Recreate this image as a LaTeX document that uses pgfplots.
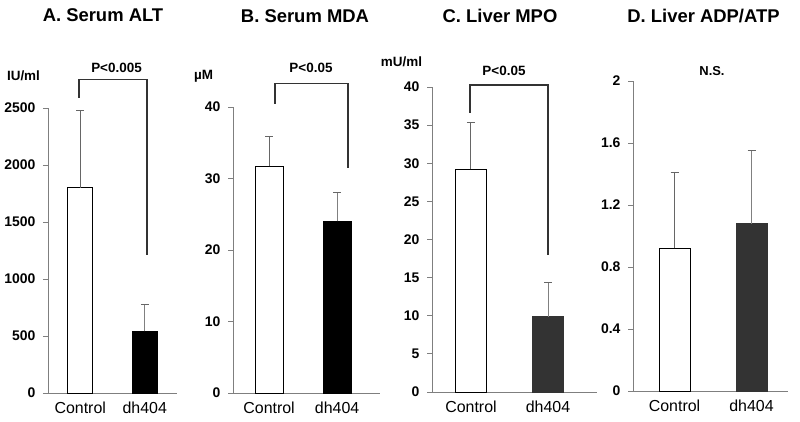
\documentclass[border=0pt]{standalone}
\usepackage{pgfplots}
\pgfplotsset{compat=1.18}
\usepackage{fontspec}
\setmainfont{Liberation Sans}
\definecolor{axgray}{HTML}{7F7F7F}
\definecolor{dkbar}{HTML}{333333}
\definecolor{brk}{HTML}{333333}
\pgfplotsset{
 panel/.style={
  scale only axis, anchor=south west,
  axis lines*=left, ymin=0,
  axis line style={axgray, line width=0.9pt},
  xtick={0,1}, xticklabels={Control,dh404},
  x tick style={draw=none},
  y tick style={axgray, line width=0.9pt},
  major tick length=5bp,
  tick align=outside,
  ytick pos=left,
  yticklabel style={font=\fontsize{14}{15}\selectfont\bfseries, xshift=-4bp, /pgf/number format/assume math mode=true, /pgf/number format/1000 sep={}},
  xticklabel style={font=\fontsize{16}{18}\selectfont},
  ybar, bar shift=0pt,
  clip=false,
 },
 ctrl/.style={fill=white, draw=black, line width=1pt,
  error bars/.cd, y dir=plus, y explicit,
  error bar style={gray!80!black, line width=1pt},
  error mark options={gray!80!black, line width=1pt, mark size=4bp, rotate=90}},
 trt/.style={fill=#1, draw=#1, line width=1pt,
  error bars/.cd, y dir=plus, y explicit,
  error bar style={gray, line width=1pt},
  error mark options={gray!80!black, line width=1pt, mark size=4bp, rotate=90}},
}
\begin{document}
\begin{tikzpicture}
\useasboundingbox (0bp,0bp) rectangle (800bp,422bp);
% Panel A
\begin{axis}[panel, at={(48bp,29bp)}, width=129bp, height=285bp,
  xmin=-0.5, xmax=1.5, ymax=2500, ytick={0,500,1000,1500,2000,2500}, bar width=25bp]
\addplot[ctrl] coordinates {(0,1800) +- (0,680)};
\addplot[trt=black] coordinates {(1,540) +- (0,240)};
\end{axis}
% Panel B
\begin{axis}[panel, at={(233bp,29bp)}, width=147bp, height=286bp,
  xmin=-0.53, xmax=1.63, ymax=40, ytick={0,10,20,30,40}, bar width=28bp]
\addplot[ctrl] coordinates {(0,31.7) +- (0,4.2)};
\addplot[trt=black] coordinates {(1,24.0) +- (0,4.1)};
\end{axis}
% Panel C
\begin{axis}[panel, at={(432bp,30bp)}, width=165bp, height=305bp,
  xmin=-0.506, xmax=1.636, ymax=40, ytick={0,5,10,15,20,25,30,35,40}, bar width=31bp]
\addplot[ctrl] coordinates {(0,29.2) +- (0,6.2)};
\addplot[trt=dkbar] coordinates {(1,9.9) +- (0,4.5)};
\end{axis}
% Panel D
\begin{axis}[panel, at={(633bp,31bp)}, width=155bp, height=310bp,
  xmin=-0.54, xmax=1.474, ymax=2, ytick={0,0.4,0.8,1.2,1.6,2}, bar width=31bp]
\addplot[ctrl] coordinates {(0,0.92) +- (0,0.49)};
\addplot[trt=dkbar] coordinates {(1,1.08) +- (0,0.47)};
\end{axis}
\begin{scope}[x=1bp,y=1bp]
% Titles
\begin{scope}[every node/.style={font=\fontsize{18.5}{20}\selectfont\bfseries, inner sep=0pt}]
\node at (103,407) {A. Serum ALT};
\node at (305,406) {B. Serum MDA};
\node at (500,406) {C. Liver MPO};
\node at (703.5,406) {D. Liver ADP/ATP};
\end{scope}
% Units and significance
\begin{scope}[every node/.style={font=\fontsize{13.5}{15}\selectfont\bfseries, inner sep=0pt}]
\node at (23.5,346) {IU/ml};
\node at (203.5,346) {µM};
\node at (401.5,360) {mU/ml};
\node at (116.5,354.5) {P<0.005};
\node at (311,354) {P<0.05};
\node at (504,351) {P<0.05};
\node[font=\fontsize{13}{15}\selectfont\bfseries] at (712,350.5) {N.S.};
\end{scope}
% Brackets
\draw[brk, line width=1.2pt] (79,422-98) -- (79,422-79.5) -- (147,422-79.5) -- (147,422-255);
\draw[brk, line width=1.2pt] (275,422-104) -- (275,422-83.5) -- (348,422-83.5) -- (348,422-168);
\draw[brk, line width=1.2pt] (470,422-113) -- (470,422-85) -- (548,422-85) -- (548,422-255);
\end{scope}
\end{tikzpicture}
\end{document}
